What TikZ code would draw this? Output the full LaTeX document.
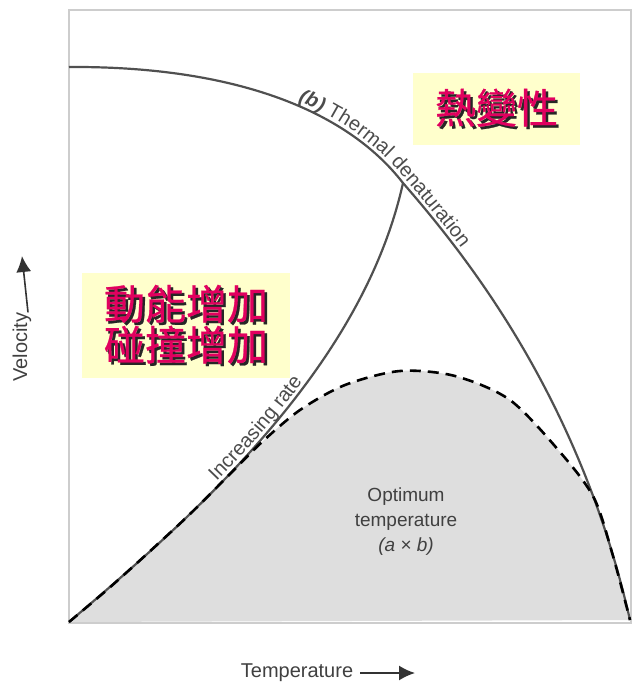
\documentclass[tikz,border=0pt]{standalone}
\usepackage{fontspec}
\setmainfont{Liberation Sans}
\newfontfamily\cjk{Noto Sans CJK TC}[FakeBold=0.6]
\usetikzlibrary{arrows.meta,decorations.text}

\definecolor{zhred}{RGB}{225,0,95}
\definecolor{notefill}{RGB}{255,255,204}
\definecolor{curvegray}{RGB}{80,80,80}
\definecolor{fillgray}{RGB}{222,222,222}
\definecolor{framegray}{RGB}{205,205,205}

\newcommand{\shadowed}[1]{\leavevmode\rlap{\kern2.5pt\raisebox{-2.5pt}{\color{black!85}#1}}{\color{zhred}#1}}
\newcommand{\lblfont}{\fontsize{20}{24}\selectfont}

\begin{document}
\begin{tikzpicture}[x=1pt,y=-1pt,
    curve/.style={draw=curvegray, line width=2.2pt},
    abcurve/.style={draw=black, line width=2.6pt, dash pattern=on 11pt off 7pt},
    notebox/.style={fill=notefill, inner sep=0pt, align=center,
        font=\cjk\fontsize{41}{41}\selectfont},
    axislabel/.style={inner sep=0pt, text=black!75, font=\lblfont},
    axisarrow/.style={-{Latex[length=16pt,width=15pt]}, line width=1.6pt, black!80}]
    \useasboundingbox (0,0) rectangle (634,689);
    \fill[fillgray] plot[smooth] coordinates {(69,622) (108,589) (148,553) (189,515) (229,475) (262,442) (300,410) (345,385) (400,371) (455,376) (510,400) (560,452) (594,498) (613,556) (630,620)} -- cycle;
    \draw[framegray, line width=1.5pt] (69,10) rectangle (631,623);
    \draw[curve, postaction={decorate, decoration={text along path, raise=4pt,
        text align={left indent=232pt}, text color=black!70,
        text={|\lblfont\bfseries\itshape|(b) |\lblfont\mdseries\upshape|Thermal denaturation}}}]
        (69,67) .. controls (230,66) and (345,108) .. (403,183)
        .. controls (470,260) and (580,400) .. (630,620);
    \draw[curve, postaction={decorate, decoration={text along path, raise=4pt,
        text align={left indent=204pt}, text color=black!70,
        text={|\lblfont|Increasing rate}}}]
        (69,622) .. controls (195,515) and (362,368) .. (403,183);
    \draw[abcurve] plot[smooth] coordinates {(69,622) (108,589) (148,553) (189,515) (229,475) (262,442) (300,410) (345,385) (400,371) (455,376) (510,400) (560,452) (594,498) (613,556) (630,620)};
    \node[axislabel, align=center, font=\fontsize{19}{25}\selectfont] (optimum) at (406,522) {Optimum\\temperature\\\textit{(a × b)}};
    \node[notebox, minimum width=167pt, minimum height=72pt] (denat) at (496.5,109) {\shadowed{熱變性}};
    \node[notebox, minimum width=208pt, minimum height=105pt] (kinetic) at (186,325.5) {\shadowed{動能增加}\\\shadowed{碰撞增加}};
    \node[axislabel] (temp) at (297,673) {Temperature};
    \coordinate (tempend) at (415,673);
    \draw[axisarrow] ([xshift=7pt]temp.east) -- (tempend);
    \node[axislabel, rotate=90] (velo) at (22,347) {Velocity};
    \coordinate (veloend) at (22,256);
    \draw[axisarrow] ([xshift=6pt]velo.east) -- (veloend);
\end{tikzpicture}
\end{document}
